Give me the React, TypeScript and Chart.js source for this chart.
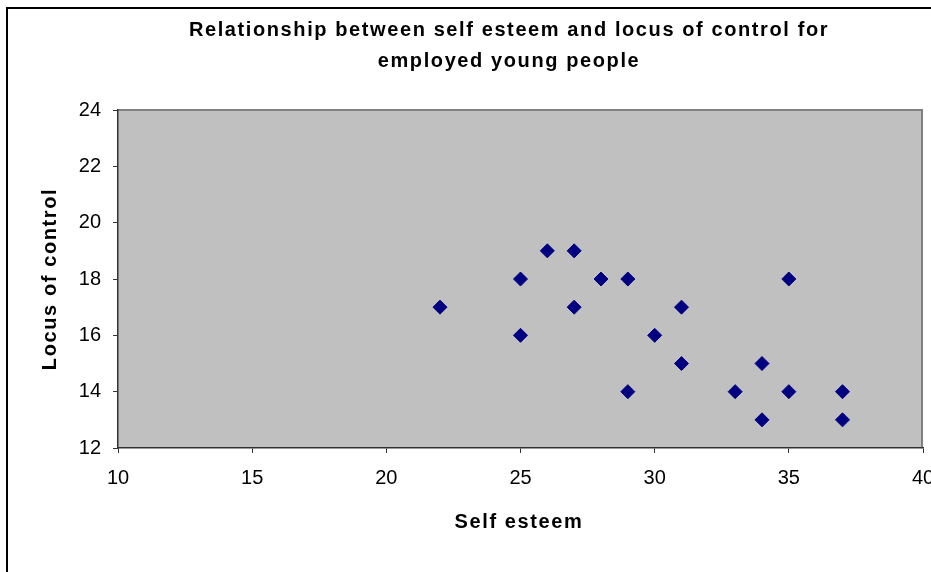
import React, { useEffect, useRef } from "react";
import { Chart, registerables } from "chart.js";

Chart.register(...registerables);

const titleLines = ["Relationship between self esteem and locus of control for", "employed young people"];
const xTitle = "Self esteem";
const yTitle = "Locus of control";

const selfEsteem = [22, 25, 25, 26, 27, 27, 28, 29, 29, 30, 31, 31, 33, 34, 34, 35, 35, 37, 37];
const locusOfControl = [17, 18, 16, 19, 19, 17, 18, 18, 14, 16, 17, 15, 14, 15, 13, 18, 14, 14, 13];

const xMin = 10, xMax = 40, xStep = 5;
const yMin = 12, yMax = 24, yStep = 2;

const FONT = '"Liberation Sans", Arial, sans-serif';

const decorPlugin = {
  id: "decor",
  beforeDraw(chart: any) {
    const { ctx, chartArea, width, height } = chart;
    ctx.save();
    ctx.fillStyle = "#ffffff";
    ctx.fillRect(0, 0, width, height);
    // outer frame
    ctx.strokeStyle = "#000000";
    ctx.lineWidth = 2;
    ctx.strokeRect(7, 8, 2000, 2000);
    // plot area
    ctx.fillStyle = "#c0c0c0";
    ctx.fillRect(chartArea.left, chartArea.top, chartArea.right - chartArea.left, chartArea.bottom - chartArea.top);
    ctx.strokeStyle = "#808080";
    ctx.lineWidth = 2;
    ctx.beginPath();
    ctx.moveTo(chartArea.left, chartArea.top);
    ctx.lineTo(chartArea.right - 1, chartArea.top);
    ctx.lineTo(chartArea.right - 1, chartArea.bottom);
    ctx.stroke();

    // titles
    ctx.fillStyle = "#000000";
    ctx.font = `bold 20px ${FONT}`;
    (ctx as any).letterSpacing = "1.6px";
    ctx.textAlign = "center";
    ctx.textBaseline = "middle";
    ctx.fillText(titleLines[0], 509, 30);
    ctx.fillText(titleLines[1], 509, 61);
    ctx.fillText(xTitle, 519, 522);
    ctx.translate(50, (chartArea.top + chartArea.bottom) / 2);
    ctx.rotate(-Math.PI / 2);
    ctx.fillText(yTitle, 0, 0);
    ctx.restore();
    (ctx as any).letterSpacing = "0px";
  },
};

export default function App() {
  const ref = useRef<HTMLCanvasElement>(null);
  useEffect(() => {
    if (!ref.current) return;
    const points = selfEsteem.map((x, i) => ({ x, y: locusOfControl[i] }));
    const chart = new Chart(ref.current, {
      type: "scatter",
      data: {
        datasets: [
          {
            label: "Employed",
            data: points,
            pointStyle: "rectRot",
            pointRadius: 7,
            pointHoverRadius: 7,
            pointBackgroundColor: "#000080",
            pointBorderColor: "#000080",
            pointBorderWidth: 1,
          },
        ],
      },
      options: {
        responsive: false,
        animation: false,
        events: [],
        layout: { padding: { left: 0, right: 8, top: 110, bottom: 0 } },
        plugins: {
          legend: { display: false },
          title: { display: false },
          tooltip: { enabled: false },
        },
        scales: {
          x: {
            type: "linear",
            min: xMin,
            max: xMax,
            afterFit(scale: any) {
              scale.height = 124;
              scale.paddingLeft = 0;
              scale.paddingRight = 0;
            },
            ticks: {
              stepSize: xStep,
              color: "#000000",
              font: { family: FONT, size: 20 },
              padding: 13,
              maxRotation: 0,
            },
            grid: { drawOnChartArea: false, drawTicks: true, tickLength: 5, color: "#333333", lineWidth: 1 },
            border: { display: true, color: "#333333", width: 1.5 },
            title: { display: false },
          },
          y: {
            type: "linear",
            min: yMin,
            max: yMax,
            afterFit(scale: any) {
              scale.width = 118;
              scale.paddingTop = 0;
              scale.paddingBottom = 0;
            },
            ticks: {
              stepSize: yStep,
              color: "#000000",
              font: { family: FONT, size: 20 },
              padding: 12,
            },
            grid: { drawOnChartArea: false, drawTicks: true, tickLength: 5, color: "#333333", lineWidth: 1 },
            border: { display: true, color: "#333333", width: 1.5 },
            title: { display: false },
          },
        },
      },
      plugins: [decorPlugin],
    });
    return () => chart.destroy();
  }, []);
  return (
    <div style={{ position: "fixed", left: 0, top: 0, width: 931, height: 572 }}>
      <canvas ref={ref} width={931} height={572} style={{ width: 931, height: 572, display: "block" }} />
    </div>
  );
}
